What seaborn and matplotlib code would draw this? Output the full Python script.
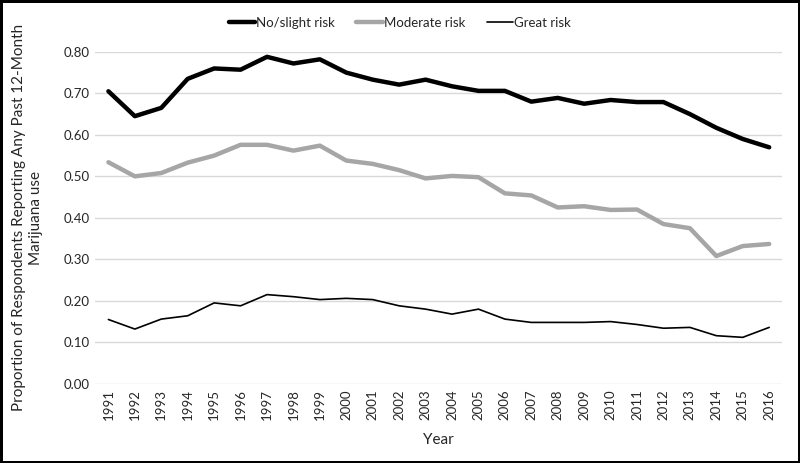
import seaborn as sns
import numpy as np
import matplotlib.pyplot as plt
import pandas as pd

years = list(range(1991, 2017))
no_slight = [0.705, 0.645, 0.665, 0.735, 0.760, 0.757, 0.788, 0.772, 0.782, 0.750,
             0.733, 0.721, 0.733, 0.717, 0.706, 0.706, 0.680, 0.689, 0.675, 0.684,
             0.679, 0.679, 0.650, 0.617, 0.590, 0.570]
moderate = [0.534, 0.500, 0.508, 0.533, 0.550, 0.576, 0.576, 0.562, 0.574, 0.538,
            0.530, 0.515, 0.495, 0.501, 0.498, 0.459, 0.454, 0.425, 0.428, 0.419,
            0.420, 0.385, 0.375, 0.308, 0.332, 0.337]
great = [0.155, 0.132, 0.156, 0.164, 0.195, 0.188, 0.215, 0.210, 0.203, 0.206,
         0.203, 0.188, 0.180, 0.168, 0.180, 0.156, 0.148, 0.148, 0.148, 0.150,
         0.143, 0.134, 0.136, 0.116, 0.112, 0.136]
labels = ['No/slight risk', 'Moderate risk', 'Great risk']

df = pd.DataFrame({'year': years * 3,
                   'val': no_slight + moderate + great,
                   'risk': [labels[0]] * 26 + [labels[1]] * 26 + [labels[2]] * 26})

sns.set_style('white')
plt.rcParams['font.family'] = ['Lato', 'DejaVu Sans']

f = plt.figure(figsize=(8, 4.63), dpi=100)
f.patch.set_edgecolor('black')
f.patch.set_linewidth(2.5)
ax = f.add_axes([0.119, 0.171, 0.859, 0.717])

sns.lineplot(x='year', y='val', hue='risk', size='risk', data=df, ax=ax,
             palette={labels[0]: 'black', labels[1]: '#a6a6a6', labels[2]: 'black'},
             sizes={labels[0]: 3.2, labels[1]: 3.2, labels[2]: 1.2}, legend=True)

ax.set_xlim(1990.5, 2016.5)
ax.set_ylim(0, 0.8)
ax.set_xticks(years)
ax.set_xticklabels([str(y) for y in years], rotation=90, fontsize=9.5)
ax.set_yticks(np.arange(0, 0.81, 0.1))
ax.set_yticklabels(['%.2f' % v for v in np.arange(0, 0.81, 0.1)], fontsize=9.5)
ax.yaxis.grid(True, color='#d9d9d9', linewidth=1)
ax.set_axisbelow(True)
for s in ax.spines.values():
    s.set_visible(False)
ax.tick_params(axis='both', length=0, pad=4)
ax.set_xlabel('Year', fontsize=11, labelpad=9)
ax.set_ylabel('Proportion of Respondents Reporting Any Past 12-Month\nMarijuana use',
              fontsize=11, labelpad=15)

h, l = ax.get_legend_handles_labels()
ax.get_legend().remove()
f.legend(h, l, loc='upper center', bbox_to_anchor=(0.5, 0.99), ncol=3,
         frameon=False, fontsize=9.5, handlelength=2.0, handletextpad=0.1,
         columnspacing=1.6)

plt.savefig('out.png', dpi=100)
